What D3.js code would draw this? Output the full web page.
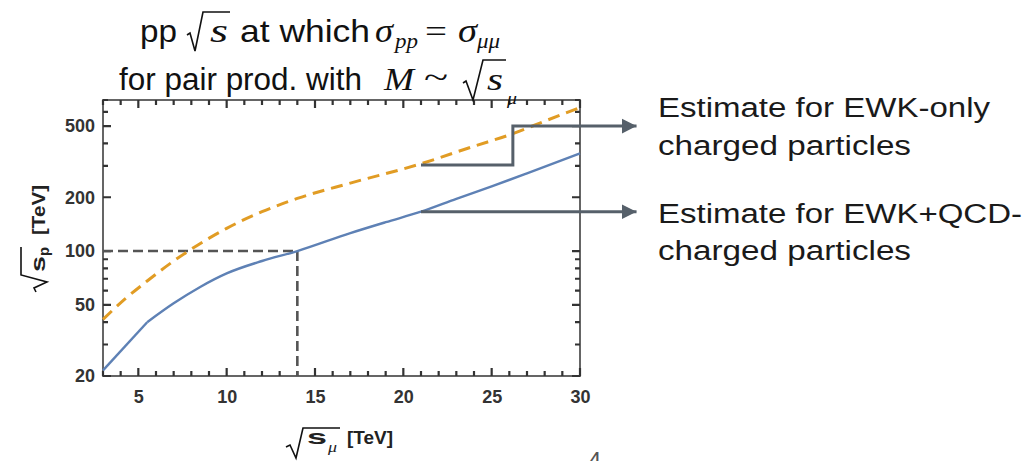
<!DOCTYPE html>
<html><head><meta charset="utf-8">
<script src="https://cdn.jsdelivr.net/npm/d3@7"></script>
<style>body{margin:0;background:#fff;} svg{display:block}</style>
</head><body>
<svg id="c" width="1026" height="461"></svg>
<script>
// ---- data ----
const muEnergyBlue = [3, 5.5, 7, 8.5, 10, 12, 14, 17, 19, 21, 23, 25, 27, 30];
const ewkQcd      = [21.5, 40, 51, 63, 75, 88, 100, 126, 145, 166, 196, 230, 272, 352];
const muEnergyOrange = [3, 4.25, 5.5, 7, 7.83, 10, 12, 14, 17, 21, 24, 26.1, 28, 30];
const ewkOnly        = [41.5, 54, 68, 88, 100, 134, 166, 197, 240, 308, 386, 450, 533, 635];
const xTicks = [5, 10, 15, 20, 25, 30];
const xMinor = [3,4,6,7,8,9,11,12,13,14,16,17,18,19,21,22,23,24,26,27,28,29];
const yTicks = [20, 50, 100, 200, 500];
const yMinor = [30, 40, 60, 70, 80, 90, 300, 400, 600, 700];
const refX = 14, refY = 100;
const annTexts = ["Estimate for EWK-only", "charged particles", "Estimate for EWK+QCD-", "charged particles"];
// annotation anchors (data coords)
const annUpper = [[21, 303], [26.2, 303], [26.2, 500], [33.2, 500]];
const annLower = [[21, 166], [33.2, 166]];

const svg = d3.select("#c");
const x = d3.scaleLinear().domain([3, 30]).range([103, 580]);
const y = d3.scaleLog().domain([20, 700]).range([376, 100]);

const frameCol = "#555";
const sans = "'Liberation Sans', Arial, Helvetica, sans-serif";
const serif = "'Liberation Serif', 'Times New Roman', serif";

// axis labels via d3 axes
function styleAxis(g) {
  g.select(".domain").remove();
  g.selectAll(".tick line").remove();
  g.selectAll(".tick text").attr("font-family", sans).attr("font-weight", "bold")
    .attr("font-size", 18).attr("fill", "#333");
}
svg.append("g").attr("transform", "translate(0,376)")
  .call(d3.axisBottom(x).tickValues(xTicks).tickSize(0).tickPadding(14).tickFormat(d3.format("d")))
  .call(styleAxis);
svg.append("g").attr("transform", "translate(103,0)")
  .call(d3.axisLeft(y).tickValues(yTicks).tickSize(0).tickPadding(8).tickFormat(d3.format("d")))
  .call(styleAxis);

// frame
svg.append("rect").attr("x", 103).attr("y", 100).attr("width", 477).attr("height", 276)
  .attr("fill", "none").attr("stroke", frameCol).attr("stroke-width", 1.8);

// inward tick marks on all four frame sides, as one path
let td = "";
xTicks.forEach(v => { td += `M${x(v)},376v-8M${x(v)},100v8`; });
xMinor.forEach(v => { td += `M${x(v)},376v-5M${x(v)},100v5`; });
yTicks.forEach(v => { td += `M103,${y(v)}h8M580,${y(v)}h-8`; });
yMinor.forEach(v => { td += `M103,${y(v)}h5M580,${y(v)}h-5`; });
svg.append("path").attr("d", td).attr("fill", "none").attr("stroke", "#333").attr("stroke-width", 2.2);

// reference dashed lines
const refCol = "#555";
svg.append("line").attr("x1", x(3)).attr("x2", x(refX)).attr("y1", y(refY)).attr("y2", y(refY))
  .attr("stroke", refCol).attr("stroke-width", 2.6).attr("stroke-dasharray", "10,5");
svg.append("line").attr("x1", x(refX)).attr("x2", x(refX)).attr("y1", y(refY)).attr("y2", y(20))
  .attr("stroke", refCol).attr("stroke-width", 2.6).attr("stroke-dasharray", "10,5");

// curves
const lineMono = d3.line().x(d => x(d[0])).y(d => y(d[1])).curve(d3.curveMonotoneX);
const lineLin = d3.line().x(d => x(d[0])).y(d => y(d[1]));
svg.append("path").datum(muEnergyOrange.map((v, i) => [v, ewkOnly[i]]))
  .attr("d", lineMono).attr("fill", "none").attr("stroke", "#e19c24")
  .attr("stroke-width", 3).attr("stroke-dasharray", "12,7");
const bluePts = muEnergyBlue.map((v, i) => [v, ewkQcd[i]]);
svg.append("path").datum(bluePts.slice(0, 2)).attr("d", lineLin)
  .attr("fill", "none").attr("stroke", "#5e81b5").attr("stroke-width", 2.4);
svg.append("path").datum(bluePts.slice(1)).attr("d", lineMono)
  .attr("fill", "none").attr("stroke", "#5e81b5").attr("stroke-width", 2.4);

// annotation arrows
const annCol = "#56606a";
svg.append("defs").append("marker").attr("id", "ah").attr("markerUnits", "userSpaceOnUse")
  .attr("markerWidth", 16).attr("markerHeight", 16).attr("refX", 15).attr("refY", 8)
  .attr("orient", "auto").append("path").attr("d", "M0,0.5 L15,8 L0,15.5 Z").attr("fill", annCol);
svg.append("path").datum(annUpper).attr("d", lineLin).attr("fill", "none")
  .attr("stroke", annCol).attr("stroke-width", 3).attr("marker-end", "url(#ah)");
svg.append("path").datum(annLower).attr("d", lineLin).attr("fill", "none")
  .attr("stroke", annCol).attr("stroke-width", 3).attr("marker-end", "url(#ah)");

// annotation texts
const annPos = [[117, 332], [155, 253], [223, 364], [260, 253]];
annTexts.forEach((t, i) => {
  svg.append("text").attr("x", 658).attr("y", annPos[i][0]).text(t)
    .attr("font-family", sans).attr("font-size", 27).attr("fill", "#1a1a1a")
    .attr("textLength", annPos[i][1]).attr("lengthAdjust", "spacingAndGlyphs");
});

// rich text helper
function seg(parent, t, xx, yy, w, size, opts = {}) {
  const el = parent.append("text").attr("x", xx).attr("y", yy).text(t)
    .attr("font-family", opts.serif ? serif : sans)
    .attr("font-size", size).attr("fill", opts.fill || "#111")
    .attr("font-style", opts.italic ? "italic" : "normal")
    .attr("font-weight", opts.bold ? "bold" : "normal");
  if (w) el.attr("textLength", w).attr("lengthAdjust", "spacingAndGlyphs");
  return el;
}
function radical(parent, pts, sw) {
  parent.append("path").attr("d", d3.line()(pts)).attr("fill", "none")
    .attr("stroke", "#111").attr("stroke-width", sw || 1.6).attr("stroke-linejoin", "miter");
}

// title
const tg = svg.append("g");
seg(tg, "pp", 140, 42, 37, 32);
radical(tg, [[187, 35], [190, 33], [195, 51], [203, 12], [230, 12]], 1.6);
seg(tg, "s", 210, 42, 18, 33, {serif: true, italic: true});
seg(tg, "at which", 240, 42, 130, 32);
seg(tg, "σ", 375, 42, 18, 33, {serif: true, italic: true});
seg(tg, "pp", 395, 48, 23, 21, {serif: true, italic: true});
seg(tg, "=", 425, 42, 22, 32, {serif: true});
seg(tg, "σ", 458, 42, 19, 33, {serif: true, italic: true});
seg(tg, "μμ", 477, 48, 23, 20, {serif: true, italic: true});

seg(tg, "for pair prod. with", 119, 90, 243, 31);
seg(tg, "M", 384, 90, 30, 32, {serif: true, italic: true});
seg(tg, "~", 424, 88, 24, 32, {serif: true});
radical(tg, [[463, 83], [466, 81], [473, 100], [483, 60], [506, 60]], 1.6);
seg(tg, "s", 487, 90, 16, 32, {serif: true, italic: true});
seg(tg, "μ", 507, 104, 10, 17, {serif: true, italic: true});

// x axis label
const xl = svg.append("g");
radical(xl, [[286, 447], [290, 445], [296, 458], [303, 428], [340, 428]], 1.6);
seg(xl, "s", 307, 444, 20, 21, {bold: true, fill: "#222"});
seg(xl, "μ", 328, 452, 9, 15, {serif: true, italic: true, fill: "#222"});
seg(xl, "[TeV]", 347, 444, 46, 18, {bold: true, fill: "#222"});

// y axis label (rotated)
const yl = svg.append("g").attr("transform", "translate(45,292) rotate(-90)");
radical(yl, [[0, -9], [4, -11], [10, 2], [17, -24], [45, -24]], 1.6);
seg(yl, "s", 20, 0, 16, 21, {bold: true, fill: "#222"});
seg(yl, "p", 36, 4, 9, 14, {bold: true, fill: "#222"});
seg(yl, "[TeV]", 57, 0, 50, 18, {bold: true, fill: "#222"});

// slide number (only its top is visible, as in the source)
seg(svg, "4", 588, 469, null, 24, {fill: "#555"});
</script>
</body></html>
